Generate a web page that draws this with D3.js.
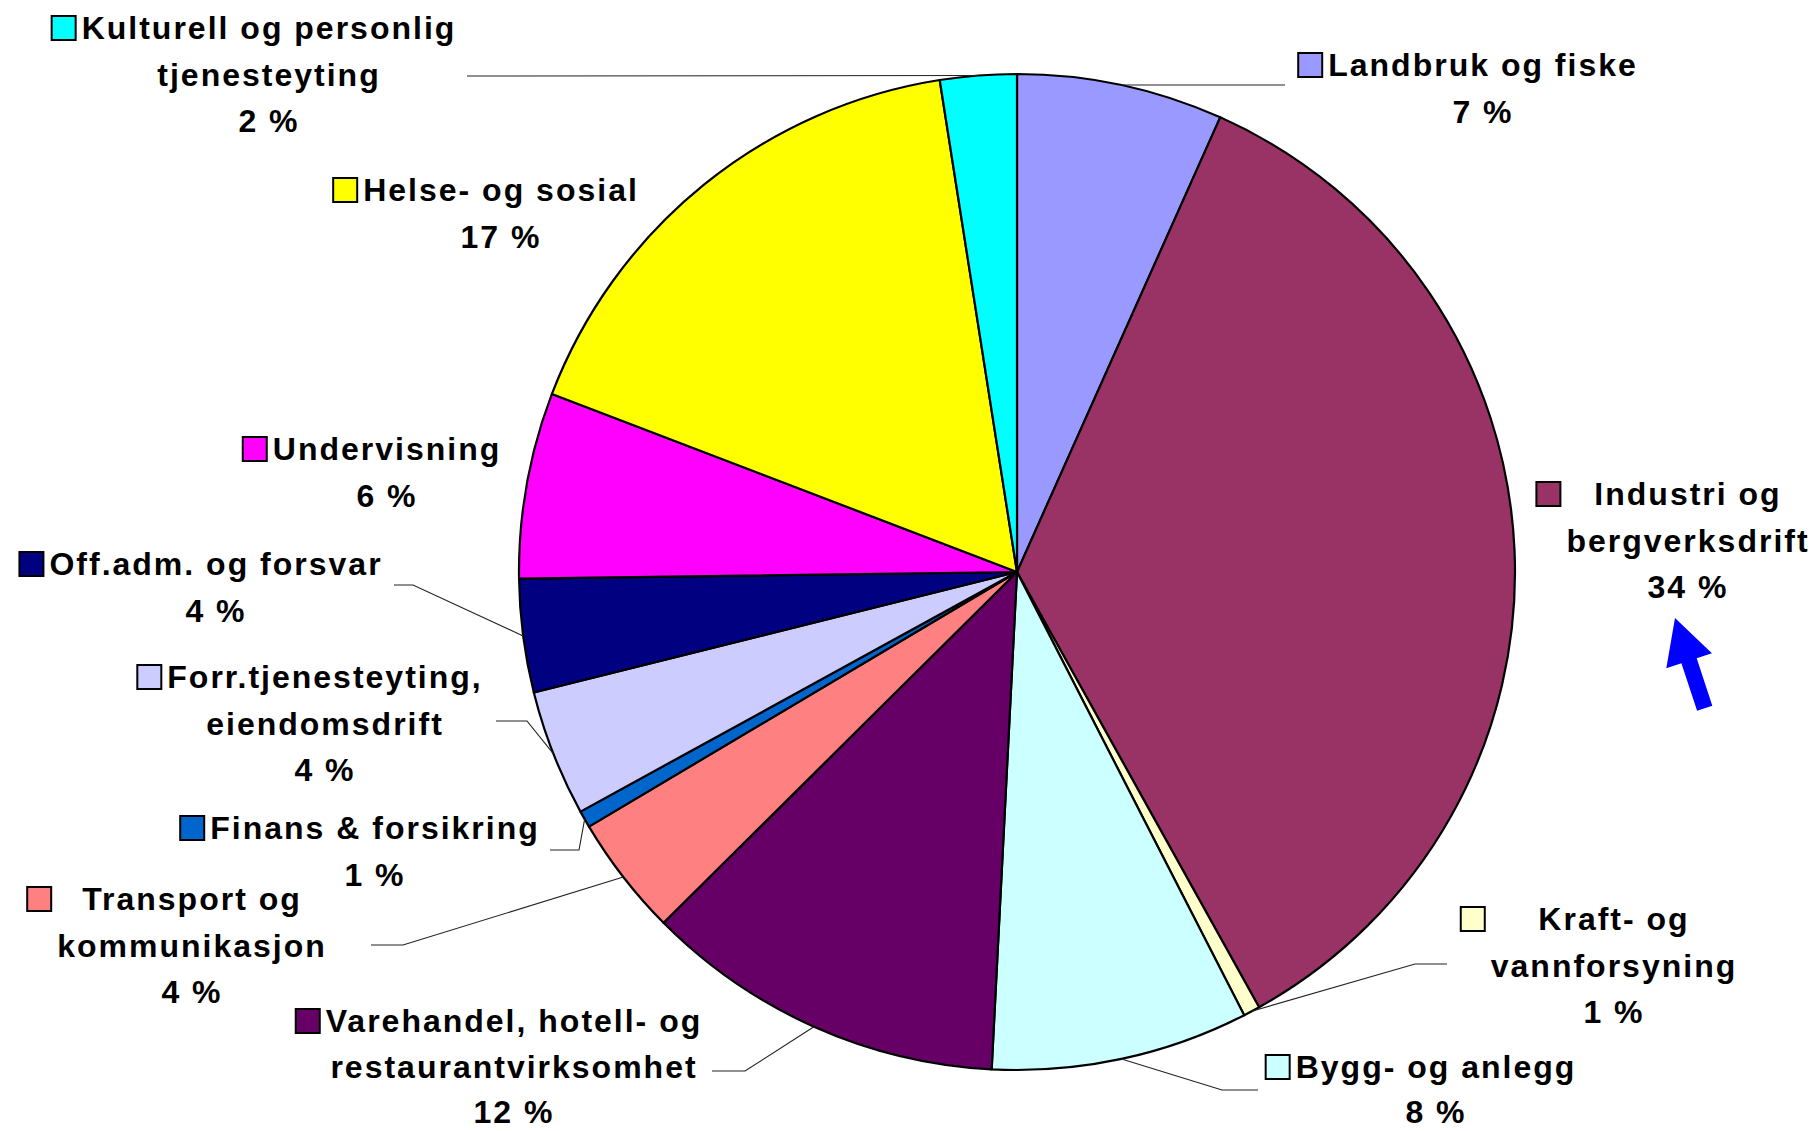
<!DOCTYPE html>
<html>
<head>
<meta charset="utf-8">
<script src="https://cdn.jsdelivr.net/npm/d3@7"></script>
<style>
  html, body { margin: 0; padding: 0; background: #fff; }
  svg { display: block; }
  text { font-family: "Liberation Sans", Arial, sans-serif; font-weight: bold; font-size: 32px; letter-spacing: 2px; fill: #000; }
</style>
</head>
<body>
<script>
// ---- data (clockwise from 12 o'clock) ----
const categories = [
  "Landbruk og fiske", "Industri og bergverksdrift", "Kraft- og vannforsyning",
  "Bygg- og anlegg", "Varehandel, hotell- og restaurantvirksomhet",
  "Transport og kommunikasjon", "Finans & forsikring",
  "Forr.tjenesteyting, eiendomsdrift", "Off.adm. og forsvar",
  "Undervisning", "Helse- og sosial", "Kulturell og personlig tjenesteyting"
];
const values = [6.69, 35.23, 0.54, 8.35, 11.75, 3.9, 0.55, 4.1, 3.68, 6.03, 16.7, 2.48];
const pctLabels = ["7 %", "34 %", "1 %", "8 %", "12 %", "4 %", "1 %", "4 %", "4 %", "6 %", "17 %", "2 %"];
const labelLines = [
  ["Landbruk og fiske"],
  ["Industri og", "bergverksdrift"],
  ["Kraft- og", "vannforsyning"],
  ["Bygg- og anlegg"],
  ["Varehandel, hotell- og", "restaurantvirksomhet"],
  ["Transport og", "kommunikasjon"],
  ["Finans & forsikring"],
  ["Forr.tjenesteyting,", "eiendomsdrift"],
  ["Off.adm. og forsvar"],
  ["Undervisning"],
  ["Helse- og sosial"],
  ["Kulturell og personlig", "tjenesteyting"]
];

// ---- styles / layout ----
const colors = ["#9999FF", "#993366", "#FFFFCC", "#CCFFFF", "#660066", "#FF8080",
                "#0066CC", "#CCCCFF", "#000080", "#FF00FF", "#FFFF00", "#00FFFF"];
// label centre x, first-line baseline y
const labelPos = [
  [1483, 76], [1688, 505], [1614, 930], [1436, 1078], [514, 1032], [192, 910],
  [375, 839], [325, 688], [216, 575], [387, 460], [501, 201], [269, 39]
];
// per-label line spacing
const lineGaps = [46.5, 46.5, 46.5, 45, 45.5, 46.5, 46.5, 46.5, 46.5, 46.5, 46.5, 46.5];
// leader polyline points from label side (arc point appended from the pie)
const leaderPts = [
  [[1285, 85]],
  null,
  [[1447, 964], [1415, 964]],
  [[1258, 1090], [1222, 1090]],
  [[712, 1071], [745, 1071]],
  [[371, 945], [403, 945]],
  [[550, 850], [579, 850]],
  [[496, 721], [527, 721]],
  [[394, 585], [413, 585]],
  null,
  null,
  [[467, 76]]
];

const W = 1816, H = 1131;
const cx = 1017, cy = 572, R = 498;

const svg = d3.select("body").append("svg").attr("width", W).attr("height", H);
svg.append("rect").attr("width", W).attr("height", H).attr("fill", "#fff");

const data = categories.map((c, i) => ({ name: c, v: values[i], i }));
const pie = d3.pie().sort(null).value(d => d.v).startAngle(0).endAngle(2 * Math.PI);
const arcs = pie(data);
const arc = d3.arc().innerRadius(0).outerRadius(R);
const edgeArc = d3.arc().innerRadius(R).outerRadius(R);

const g = svg.append("g").attr("transform", `translate(${cx},${cy})`);
g.selectAll("path.slice").data(arcs).join("path")
  .attr("class", "slice")
  .attr("d", arc)
  .attr("fill", d => colors[d.data.i])
  .attr("stroke", "#000")
  .attr("stroke-width", 2.2)
  .attr("stroke-linejoin", "round");

// leader lines
const line = d3.line();
arcs.forEach(a => {
  const pts = leaderPts[a.data.i];
  if (!pts) return;
  const c = edgeArc.centroid(a);
  const all = pts.concat([[cx + c[0], cy + c[1]]]);
  svg.append("path").attr("d", line(all))
    .attr("fill", "none").attr("stroke", "#222").attr("stroke-width", 1.1);
});

// labels
arcs.forEach(a => {
  const i = a.data.i;
  const [lx, ly] = labelPos[i];
  const lines = labelLines[i].concat([pctLabels[i]]);
  const lg = svg.append("g");
  let maxW = 0;
  lines.forEach((t, k) => {
    const te = lg.append("text")
      .attr("x", lx).attr("y", ly + k * lineGaps[i])
      .attr("text-anchor", "middle").text(t);
    maxW = Math.max(maxW, te.node().getComputedTextLength());
  });
  lg.append("rect")
    .attr("x", lx - maxW / 2 - 6 - 24).attr("y", ly - 23)
    .attr("width", 24).attr("height", 24)
    .attr("fill", colors[i]).attr("stroke", "#000").attr("stroke-width", 2);
});

// blue arrow annotation
svg.append("path")
  .attr("d", "M1675,618 L1711.9,653.3 L1696.7,658.3 L1712.3,705.8 L1697.1,710.8 L1681.4,663.3 L1666.3,668.3 Z")
  .attr("fill", "#0000FF");
</script>
</body>
</html>
